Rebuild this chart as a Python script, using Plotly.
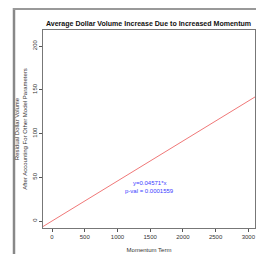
import plotly.graph_objects as go

slope = 0.04571
x_range = [-138, 3102]
y_range = [-8, 218.3]
x_ticks = [0, 500, 1000, 1500, 2000, 2500, 3000]
y_ticks = [0, 50, 100, 150, 200]
fit_label = "y=0.04571*x"
p_label = "p-val = 0.0001559"
label_x = 1490
label_y = [43, 34.6]

line_x = x_range
line_y = [slope * v for v in line_x]

OFF = 8  # page body margin
W, H = 264 - 2 * OFF, 262 - 2 * OFF
ml, mt = 43 - OFF, 30 - OFF
mr = W - (255 - OFF)
mb = H - (228 - OFF)
pw, ph = W - ml - mr, H - mt - mb

def px(xp):
    return (xp - OFF - ml) / pw
def py(yp):
    return 1 - (yp - OFF - mt) / ph

fig = go.Figure()
fig.add_trace(go.Scatter(x=line_x, y=line_y, mode="lines",
                         line=dict(color="#f07878", width=1), showlegend=False,
                         hoverinfo="skip"))

font = "Liberation Sans, Arial, sans-serif"
fig.update_layout(
    width=W, height=H,
    margin=dict(l=ml, r=mr, t=mt, b=mb, pad=0),
    paper_bgcolor="white", plot_bgcolor="white",
    font=dict(family=font, size=6, color="#333"),
    title=dict(text="<b>Average Dollar Volume Increase Due to Increased Momentum</b>",
               x=(148.5 - OFF) / W, xanchor="center", y=1 - (24 - OFF) / H, yanchor="middle",
               xref="container", yref="container",
               font=dict(size=7.05, color="#111")),
    xaxis=dict(range=x_range, tickvals=x_ticks, ticks="outside", ticklen=3,
               tickcolor="#555", showline=True, linecolor="#777", mirror=True,
               showgrid=False, zeroline=False,
               title=dict(text="Momentum Term", font=dict(size=6), standoff=8)),
    yaxis=dict(range=y_range, tickvals=y_ticks, ticks="outside", ticklen=3,
               tickcolor="#555", showline=True, linecolor="#777", mirror=True,
               showgrid=False, zeroline=False, tickangle=-90,
               title=dict(text="Residual Dollar Volume<br>After Accounting For Other Model Parameters",
                          font=dict(size=6), standoff=3)),
    annotations=[
        dict(x=label_x, y=label_y[0], xref="x", yref="y", text=fit_label, showarrow=False,
             font=dict(size=6, color="#3a3aff"), yanchor="middle"),
        dict(x=label_x, y=label_y[1], xref="x", yref="y", text=p_label, showarrow=False,
             font=dict(size=6, color="#3a3aff"), yanchor="middle"),
    ],
    shapes=[
        dict(type="line", xref="paper", yref="paper", x0=px(14), x1=px(14),
             y0=py(8), y1=py(262), line=dict(color="#888", width=2.5)),
        dict(type="line", xref="paper", yref="paper", x0=px(13), x1=px(264),
             y0=py(9), y1=py(9), line=dict(color="#999", width=2)),
    ],
)
fig.write_html("out.html")
